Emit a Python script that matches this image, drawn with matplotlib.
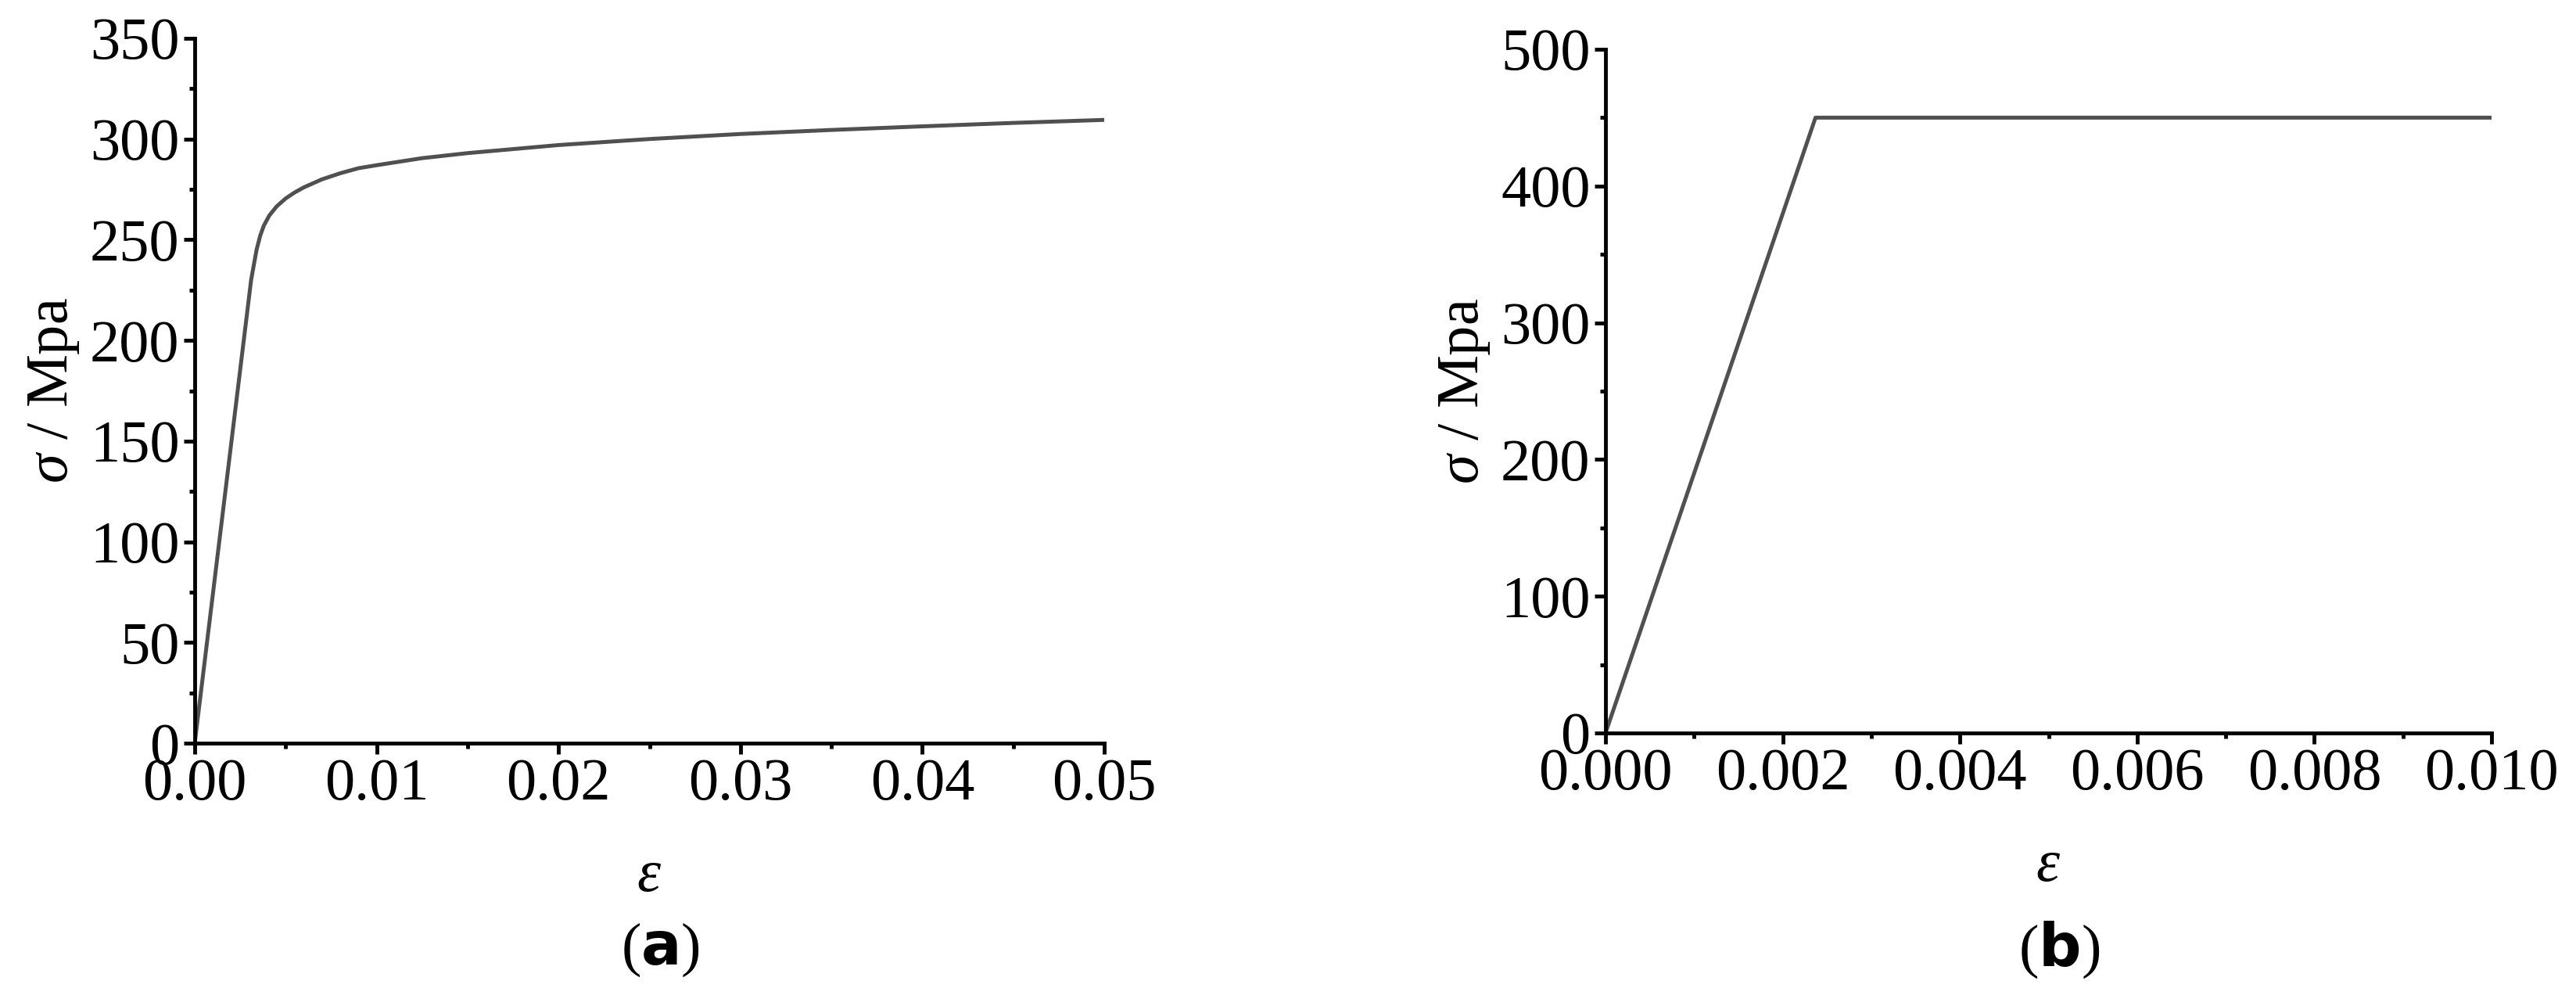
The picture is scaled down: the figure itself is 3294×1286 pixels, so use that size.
import numpy as np
import matplotlib.pyplot as plt
from matplotlib.ticker import MultipleLocator, FormatStrFormatter

plt.rcParams['font.family'] = 'Liberation Serif'
plt.rcParams['mathtext.fontset'] = 'custom'
plt.rcParams['mathtext.it'] = 'Liberation Serif:italic'
plt.rcParams['mathtext.rm'] = 'Liberation Serif'

# (a) stress-strain curve with hardening
strain_a = [0.0, 0.0031, 0.0034, 0.0036, 0.0038, 0.0041, 0.0045, 0.005, 0.0055,
            0.006, 0.007, 0.008, 0.009, 0.01, 0.0125, 0.015, 0.02, 0.025, 0.03,
            0.035, 0.04, 0.045, 0.05]
stress_a = [0.0, 230, 245, 252, 257, 262, 266.5, 270.5, 273.5,
            276, 280, 283, 285.5, 287, 290.5, 293, 297, 300, 302.5,
            304.5, 306.3, 308, 309.5]

# (b) elastic-perfectly plastic
strain_b = [0.0, 0.00237, 0.010]
stress_b = [0.0, 450, 450]

W, H = 3294, 1286
fig = plt.figure(figsize=(W / 100, H / 100), dpi=100)

FS = 55
LC = '#505050'


def style(ax):
    for s in ['top', 'right']:
        ax.spines[s].set_visible(False)
    for s in ['left', 'bottom']:
        ax.spines[s].set_linewidth(3.5)
    ax.tick_params(which='major', direction='out', length=10, width=3.5,
                   labelsize=FS, pad=4)
    ax.tick_params(which='minor', direction='out', length=5, width=3.5)


ax1 = fig.add_axes([249 / W, 1 - 950 / H, (1412 - 249) / W, (950 - 49) / H])
ax1.plot(strain_a, stress_a, color=LC, lw=3.6)
ax1.set_xlim(0, 0.05)
ax1.set_ylim(0, 350)
ax1.xaxis.set_major_locator(MultipleLocator(0.01))
ax1.xaxis.set_minor_locator(MultipleLocator(0.005))
ax1.yaxis.set_major_locator(MultipleLocator(50))
ax1.yaxis.set_minor_locator(MultipleLocator(25))
ax1.xaxis.set_major_formatter(FormatStrFormatter('%.2f'))
style(ax1)
ax1.set_ylabel(r'$\mathit{\sigma}$ / Mpa', fontsize=FS, labelpad=8)
ax1.set_xlabel(r'$\mathit{\varepsilon}$', fontsize=FS, labelpad=34)

ax2 = fig.add_axes([2053 / W, 1 - 937 / H, (3186 - 2053) / W, (937 - 63) / H])
ax2.plot(strain_b, stress_b, color=LC, lw=3.6)
ax2.set_xlim(0, 0.010)
ax2.set_ylim(0, 500)
ax2.xaxis.set_major_locator(MultipleLocator(0.002))
ax2.xaxis.set_minor_locator(MultipleLocator(0.001))
ax2.yaxis.set_major_locator(MultipleLocator(100))
ax2.yaxis.set_minor_locator(MultipleLocator(50))
ax2.xaxis.set_major_formatter(FormatStrFormatter('%.3f'))
style(ax2)
ax2.set_ylabel(r'$\mathit{\sigma}$ / Mpa', fontsize=FS, labelpad=8)
ax2.set_xlabel(r'$\mathit{\varepsilon}$', fontsize=FS, labelpad=34)

# panel captions with bold letters
fig.text(845 / W, 1 - 1214 / H, r'($\mathbf{a}$)', fontsize=FS, ha='center', va='center')
fig.text(2633 / W, 1 - 1214 / H, r'($\mathbf{b}$)', fontsize=FS, ha='center', va='center')

fig.savefig('out.png', dpi=100)
